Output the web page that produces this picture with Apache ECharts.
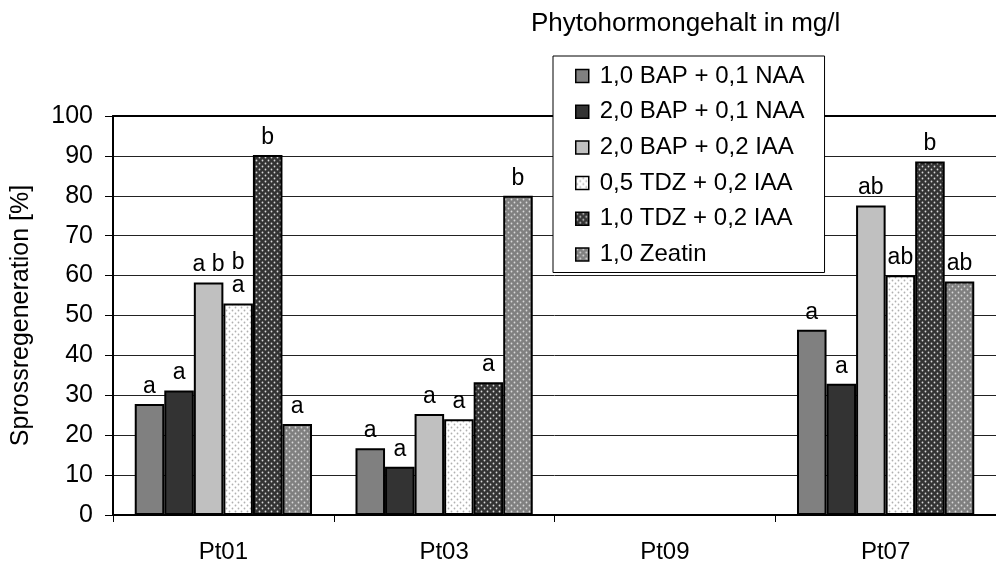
<!DOCTYPE html>
<html>
<head>
<meta charset="utf-8">
<script src="https://cdn.jsdelivr.net/npm/echarts@6/dist/echarts.min.js"></script>
<style>
  html, body { margin: 0; padding: 0; background: #fff; }
  #chart { width: 996px; height: 564px; }
</style>
</head>
<body>
<div id="chart"></div>
<script>
// Categories (plant lines) and treatments
const categories = ['Pt01', 'Pt03', 'Pt09', 'Pt07'];
const treatments = [
  '1,0 BAP + 0,1 NAA',
  '2,0 BAP + 0,1 NAA',
  '2,0 BAP + 0,2 IAA',
  '0,5 TDZ + 0,2 IAA',
  '1,0 TDZ + 0,2 IAA',
  '1,0 Zeatin'
];

// Shoot regeneration in % per treatment (Pt09: no data)
const bap1naa01 = [27.8, 16.7, null, 46.4];
const bap2naa01 = [31.2, 12.1, null, 32.9];
const bap2iaa02 = [58.3, 25.3, null, 77.6];
const tdz05iaa02 = [53.0, 24.0, null, 60.1];
const tdz1iaa02 = [90.2, 33.3, null, 88.6];
const zeatin1 = [22.8, 80.0, null, 58.5];

// Significance letters per bar
const sig1 = ['a', 'a', '', 'a'];
const sig2 = ['a', 'a', '', 'a'];
const sig3 = ['a b', 'a', '', 'ab'];
const sig4 = ['b\na', 'a', '', 'ab'];
const sig5 = ['b', 'a', '', 'b'];
const sig6 = ['a', 'b', '', 'ab'];

// Y axis ticks
const yMin = 0, yMax = 100, yStep = 10;

const FONT = "'Liberation Sans', Arial, sans-serif";

// Dotted fill pattern for the hatched bars (staggered small dots)
function dots(bg, dot) {
  const c = document.createElement('canvas');
  c.width = 6; c.height = 6;
  const g = c.getContext('2d');
  g.fillStyle = bg; g.fillRect(0, 0, 6, 6);
  g.fillStyle = dot;
  g.beginPath(); g.arc(1.5, 1.5, 0.9, 0, Math.PI * 2); g.fill();
  g.beginPath(); g.arc(4.5, 4.5, 0.9, 0, Math.PI * 2); g.fill();
  return { image: c, repeat: 'repeat' };
}

const fills = [
  '#808080',
  '#333333',
  '#c0c0c0',
  dots('#ffffff', '#b0b0b0'),
  dots('#333333', '#d8d8d8'),
  dots('#808080', '#d8d8d8')
];
const values = [bap1naa01, bap2naa01, bap2iaa02, tdz05iaa02, tdz1iaa02, zeatin1];
const letters = [sig1, sig2, sig3, sig4, sig5, sig6];

const series = treatments.map((name, i) => ({
  name: name,
  type: 'bar',
  data: values[i],
  barGap: '0%',
  barCategoryGap: '19.7%',
  itemStyle: { color: fills[i], borderColor: '#000', borderWidth: 2 },
  label: {
    show: true,
    position: 'top',
    distance: 6,
    fontFamily: FONT,
    fontSize: 23,
    lineHeight: 23,
    color: '#000',
    formatter: p => letters[i][p.dataIndex]
  }
}));

const chart = echarts.init(document.getElementById('chart'), null, { renderer: 'canvas' });
chart.setOption({
  animation: false,
  backgroundColor: '#fff',
  textStyle: { fontFamily: FONT },
  title: {
    text: 'Phytohormongehalt in mg/l',
    left: 531,
    top: 11,
    padding: 0,
    textStyle: { fontFamily: FONT, fontSize: 26, fontWeight: 'normal', color: '#000' }
  },
  grid: { left: 113, top: 116, width: 888, height: 401 },
  legend: {
    orient: 'vertical',
    left: 553,
    top: 56,
    padding: [8, 20, 6, 22],
    backgroundColor: '#fff',
    borderColor: '#000',
    borderWidth: 1,
    itemWidth: 13,
    itemHeight: 13,
    itemGap: 11.7,
    icon: 'rect',
    itemStyle: { borderColor: '#000', borderWidth: 1.5 },
    textStyle: { fontFamily: FONT, fontSize: 24, color: '#000', lineHeight: 24, padding: [0, 0, 0, 6] },
    data: treatments,
    z: 10
  },
  xAxis: [{
    type: 'category',
    data: categories,
    axisLine: { lineStyle: { color: '#000', width: 2 } },
    axisTick: { show: true, length: 7, lineStyle: { color: '#000', width: 1 } },
    axisLabel: { fontFamily: FONT, fontSize: 24, color: '#000', margin: 25 },
    splitLine: { show: false }
  }, {
    type: 'category',
    data: categories,
    position: 'top',
    axisLine: { lineStyle: { color: '#000', width: 2 } },
    axisTick: { show: false },
    axisLabel: { show: false }
  }],
  yAxis: {
    type: 'value',
    min: yMin,
    max: yMax,
    interval: yStep,
    name: 'Sprossregeneration [%]',
    nameLocation: 'middle',
    nameGap: 79,
    nameTextStyle: { fontFamily: FONT, fontSize: 25, color: '#000' },
    axisLine: { show: true, lineStyle: { color: '#000', width: 2 } },
    axisTick: { show: true, length: 8, lineStyle: { color: '#000', width: 1 } },
    axisLabel: { fontFamily: FONT, fontSize: 25, color: '#000', margin: 20 },
    splitLine: { show: true, lineStyle: { color: '#222', width: 1 } }
  },
  series: series
});
</script>
</body>
</html>
